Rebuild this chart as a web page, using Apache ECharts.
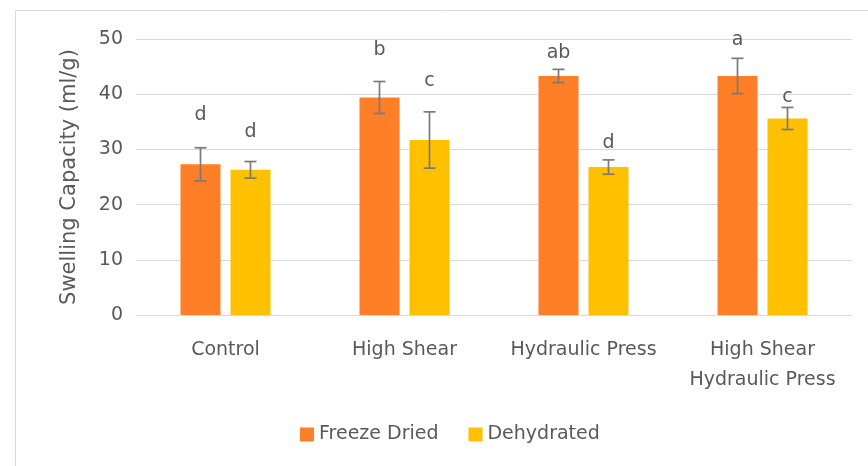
<!DOCTYPE html>
<html>
<head>
<meta charset="utf-8">
<script src="https://cdn.jsdelivr.net/npm/echarts@6/dist/echarts.min.js"></script>
<style>
  html, body { margin: 0; padding: 0; background: #fff; }
  #main { width: 868px; height: 466px; }
</style>
</head>
<body>
<div id="main"></div>
<script>
// categories + values
const categories = ['Control', 'High Shear', 'Hydraulic Press', 'High Shear\nHydraulic Press'];
const freezeDried = [27.3, 39.4, 43.3, 43.3];
const freezeErr = [3.0, 2.9, 1.2, 3.2];
const dehydrated = [26.3, 31.7, 26.8, 35.6];
const dehydErr = [1.5, 5.1, 1.3, 2.0];
// significance letters and where they sit (in axis units)
const freezeLetters = ['d', 'b', 'ab', 'a'];
const freezeLetterY = [36.2, 48.0, 47.4, 49.8];
const dehydLetters = ['d', 'c', 'd', 'c'];
const dehydLetterY = [33.2, 42.4, 31.2, 39.5];

const FONT = 'DejaVu Sans';
const TXT = '#595959';
const BAR_W = 40;
const OFFSET = 25; // half of (bar + gap)

const myChart = echarts.init(document.getElementById('main'));

const errData = (vals, errs, letters, ly) =>
  vals.map((v, i) => [i, v - errs[i], v + errs[i], ly[i], letters[i]]);

const errRender = (shift) => (params, api) => {
  const x = api.coord([api.value(0), 0])[0] + shift;
  const lo = api.coord([api.value(0), api.value(1)])[1];
  const hi = api.coord([api.value(0), api.value(2)])[1];
  const ty = api.coord([api.value(0), api.value(3)])[1];
  const st = { stroke: '#7a7a7a', lineWidth: 1.7 };
  return {
    type: 'group',
    children: [
      { type: 'line', shape: { x1: x, y1: lo, x2: x, y2: hi }, style: st },
      { type: 'line', shape: { x1: x - 6, y1: lo, x2: x + 6, y2: lo }, style: st },
      { type: 'line', shape: { x1: x - 6, y1: hi, x2: x + 6, y2: hi }, style: st },
      {
        type: 'text',
        style: {
          x: x, y: ty, text: api.value(4),
          fill: TXT, font: '19px "' + FONT + '"',
          align: 'center', verticalAlign: 'middle'
        }
      }
    ]
  };
};

myChart.setOption({
  animation: false,
  textStyle: { fontFamily: FONT },
  graphic: [
    { type: 'line', shape: { x1: 15, y1: 10.5, x2: 868, y2: 10.5 }, style: { stroke: '#d9d9d9', lineWidth: 1 } },
    { type: 'line', shape: { x1: 15.5, y1: 10, x2: 15.5, y2: 466 }, style: { stroke: '#d9d9d9', lineWidth: 1 } }
  ],
  grid: { left: 136, right: 16, top: 39, bottom: 151 },
  legend: {
    left: 295, top: 420,
    itemWidth: 14, itemHeight: 14, itemGap: 30,
    icon: 'rect',
    textStyle: { color: TXT, fontSize: 19, fontFamily: FONT },
    data: ['Freeze Dried', 'Dehydrated']
  },
  xAxis: {
    type: 'category',
    data: categories,
    axisLine: { lineStyle: { color: '#d9d9d9' } },
    axisTick: { show: false },
    axisLabel: { color: TXT, fontSize: 19, lineHeight: 30, margin: 20, interval: 0 }
  },
  yAxis: {
    type: 'value',
    min: 0, max: 50, interval: 10,
    name: 'Swelling Capacity (ml/g)',
    nameLocation: 'middle',
    nameGap: 56,
    nameTextStyle: { color: TXT, fontSize: 21 },
    axisLabel: { color: TXT, fontSize: 19, margin: 13 },
    splitLine: { lineStyle: { color: '#d9d9d9' } }
  },
  series: [
    {
      name: 'Freeze Dried', type: 'bar', data: freezeDried,
      barWidth: BAR_W, barGap: '25%',
      itemStyle: { color: '#fe7f27' }
    },
    {
      name: 'Dehydrated', type: 'bar', data: dehydrated,
      barWidth: BAR_W,
      itemStyle: { color: '#ffc000' }
    },
    {
      type: 'custom', name: 'fdErr', z: 5,
      renderItem: errRender(-OFFSET),
      data: errData(freezeDried, freezeErr, freezeLetters, freezeLetterY)
    },
    {
      type: 'custom', name: 'dhErr', z: 5,
      renderItem: errRender(OFFSET),
      data: errData(dehydrated, dehydErr, dehydLetters, dehydLetterY)
    }
  ]
});

window.addEventListener('resize', () => myChart.resize());
</script>
</body>
</html>
